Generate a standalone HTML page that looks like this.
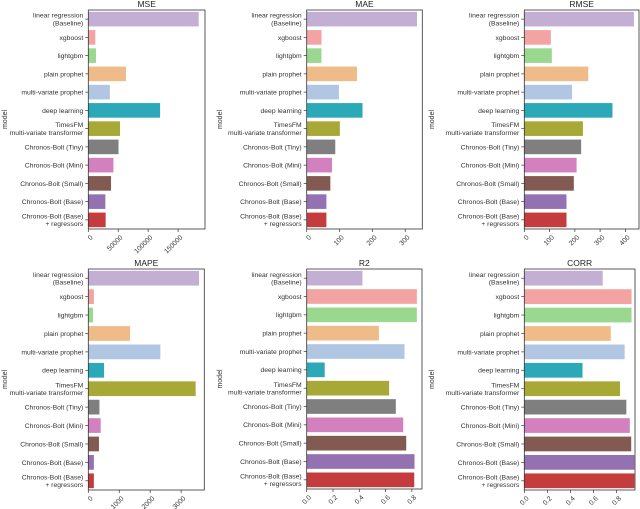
<!DOCTYPE html>
<html><head><meta charset="utf-8">
<style>
html,body{margin:0;padding:0;background:#fff;}
svg{display:block;font-family:"Liberation Sans","DejaVu Sans",sans-serif;}
</style></head>
<body>
<svg id="chart" width="640" height="509" viewBox="0 0 640 509" xmlns="http://www.w3.org/2000/svg"></svg>
<script>
const models = ["linear regression\n(Baseline)","xgboost","lightgbm","plain prophet","multi-variate prophet","deep learning","TimesFM\nmulti-variate transformer","Chronos-Bolt (Tiny)","Chronos-Bolt (Mini)","Chronos-Bolt (Small)","Chronos-Bolt (Base)","Chronos-Bolt (Base)\n+ regressors"];
const colors = ["#c2afd3","#f2a3a2","#9bd88f","#efbb88","#b1c6e3","#2ca9b8","#a8a836","#7f7f7f","#d381be","#835a52","#9471b1","#c53c3e"];
const mseValues = [184500,11700,12800,63000,36000,120000,53000,50500,42000,38000,28500,29000];
const maeValues = [336,45,45,153,98,170,101,87,77,72,60,60];
const rmseValues = [434,105,109,253,189,349,232,225,207,196,167,167];
const mapeValues = [3580,180,150,1350,2330,510,3470,360,400,345,180,180];
const r2Values = [0.424,0.838,0.838,0.549,0.744,0.137,0.627,0.678,0.734,0.757,0.82,0.818];
const corrValues = [0.68,0.93,0.93,0.75,0.87,0.505,0.83,0.885,0.915,0.927,0.955,0.955];
const mseTicks = [0,50000,100000,150000];
const maeTicks = [0,100,200,300];
const rmseTicks = [0,100,200,300,400];
const mapeTicks = [0,1000,2000,3000];
const r2Ticks = [0,0.2,0.4,0.6,0.8];
const corrTicks = [0,0.2,0.4,0.6,0.8];
const mseTickLabels = ["0","50000","100000","150000"];
const maeTickLabels = ["0","100","200","300"];
const rmseTickLabels = ["0","100","200","300","400"];
const mapeTickLabels = ["0","1000","2000","3000"];
const r2TickLabels = ["0.0","0.2","0.4","0.6","0.8"];
const corrTickLabels = ["0.0","0.2","0.4","0.6","0.8"];

const NS="http://www.w3.org/2000/svg";
const svg=document.getElementById('chart');
function mk(tag,attrs,parent){const e=document.createElementNS(NS,tag);for(const k in attrs)e.setAttribute(k,attrs[k]);(parent||svg).appendChild(e);return e;}

const panels=[
 {title:"MSE",vals:mseValues,ticks:mseTicks,tl:mseTickLabels,x0:88.3,x1:205,y0:10,y1:229,max:195000,yl:7},
 {title:"MAE",vals:maeValues,ticks:maeTicks,tl:maeTickLabels,x0:306.7,x1:422.3,y0:10,y1:229,max:352,yl:222},
 {title:"RMSE",vals:rmseValues,ticks:rmseTicks,tl:rmseTickLabels,x0:524.3,x1:639,y0:10,y1:229,max:454,yl:434},
 {title:"MAPE",vals:mapeValues,ticks:mapeTicks,tl:mapeTickLabels,x0:88.3,x1:204.3,y0:269,y1:490,max:3750,yl:7},
 {title:"R2",vals:r2Values,ticks:r2Ticks,tl:r2TickLabels,x0:306.7,x1:422,y0:269,y1:489,max:0.877,yl:222},
 {title:"CORR",vals:corrValues,ticks:corrTicks,tl:corrTickLabels,x0:524.3,x1:635,y0:269,y1:490,max:0.96,yl:434}
];

panels.forEach(p=>{
  const g=mk('g',{});
  
  
  const xs=v=>p.x0+(v/p.max)*(p.x1-p.x0);
  const band=(p.y1-p.y0)/models.length;
  const yc=i=>p.y0+band*(i+0.5);
  p.vals.forEach((v,i)=>{
    const r=mk('rect',{x:xs(0),y:yc(i)-band*0.4,width:Math.max(0,xs(v)-xs(0)),height:band*0.8,fill:colors[i]},g);
    
    
  });
  const ax=mk('rect',{x:p.x0,y:p.y0,width:p.x1-p.x0,height:p.y1-p.y0,fill:'none',stroke:'#333',"stroke-width":0.8},g);
  
  
  const t=mk('text',{x:(p.x0+p.x1)/2,y:p.y0-3,"text-anchor":"middle","font-size":8.5,fill:"#222"},g);
  t.textContent=p.title;
  
  
  models.forEach((m,i)=>{
    mk('line',{x1:p.x0-3,x2:p.x0,y1:yc(i),y2:yc(i),stroke:'#333',"stroke-width":0.7},g);
    const lines=m.split('\n');
    const lt=mk('text',{x:p.x0-5,y:0,"text-anchor":"end","font-size":6.8,fill:"#333"},g);
    
    
    lines.forEach((ln,k)=>{
      const ts=mk('tspan',{x:p.x0-5,y:yc(i)+2.4+(k-(lines.length-1)/2)*7.6},lt);
      ts.textContent=ln;
    });
  });
  p.ticks.forEach((tv,k)=>{
    const x=xs(tv);
    mk('line',{x1:x,x2:x,y1:p.y1,y2:p.y1+3,stroke:'#333',"stroke-width":0.7},g);
    const tt=mk('text',{x:x+2,y:p.y1+6,"text-anchor":"end","font-size":6.8,fill:"#333",transform:`rotate(-45 ${x+2} ${p.y1+6})`,"dominant-baseline":"hanging"},g);
    tt.textContent=p.tl[k];
    
    
  });
  const cy=(p.y0+p.y1)/2;
  const yl=mk('text',{x:p.yl,y:cy,"text-anchor":"middle","font-size":7,fill:"#333",transform:`rotate(-90 ${p.yl} ${cy})`},g);
  yl.textContent='model';
  
  
});
</script>
</body></html>
